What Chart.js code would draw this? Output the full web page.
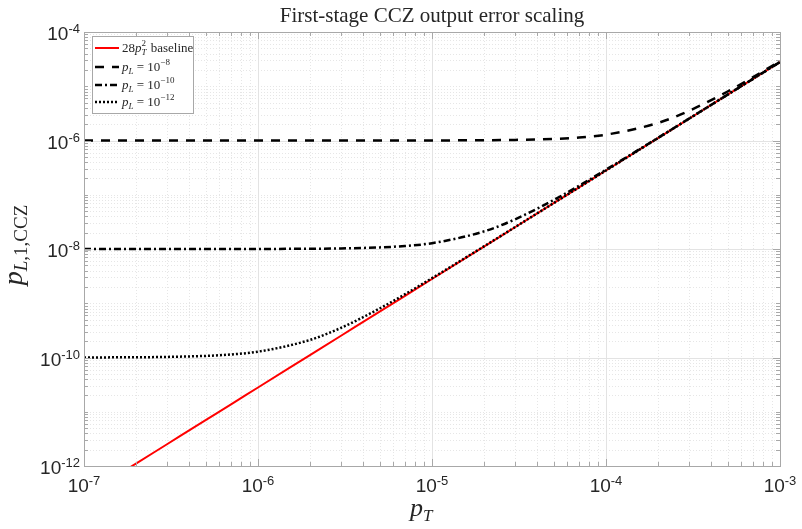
<!DOCTYPE html>
<html>
<head>
<meta charset="utf-8">
<script src="https://cdn.jsdelivr.net/npm/chart.js@4"></script>
<style>
  html, body { margin: 0; padding: 0; background: #fff; }
  #wrap { width: 802px; height: 529px; }
</style>
</head>
<body>
<div id="wrap"><canvas id="cczChart" width="802" height="529"></canvas></div>
<script>
// p_T sample points (x axis)
const pT = [1e-7, 2e-7, 3e-7, 5e-7, 7e-7, 1e-6, 2e-6, 3e-6, 5e-6, 7e-6,
            1e-5, 2e-5, 3e-5, 5e-5, 7e-5, 1e-4, 2e-4, 3e-4, 5e-4, 7e-4, 1e-3];

// red baseline 28 p_T^2
const baseline = [2.8e-13, 1.12e-12, 2.52e-12, 7.0e-12, 1.37e-11, 2.8e-11, 1.12e-10, 2.52e-10, 7.0e-10, 1.37e-9,
                  2.8e-9, 1.12e-8, 2.52e-8, 7.0e-8, 1.37e-7, 2.8e-7, 1.12e-6, 2.52e-6, 7.0e-6, 1.37e-5, 2.8e-5];
// p_L = 1e-8
const pL8 = [1.0e-6, 1.0e-6, 1.0e-6, 1.0e-6, 1.0e-6, 1.0e-6, 1.0e-6, 1.0e-6, 1.001e-6, 1.001e-6,
             1.003e-6, 1.011e-6, 1.025e-6, 1.07e-6, 1.137e-6, 1.28e-6, 2.12e-6, 3.52e-6, 8.0e-6, 1.47e-5, 2.9e-5];
// p_L = 1e-10
const pL10 = [1.0e-8, 1.0e-8, 1.0e-8, 1.0e-8, 1.0e-8, 1.003e-8, 1.011e-8, 1.025e-8, 1.07e-8, 1.137e-8,
              1.28e-8, 2.12e-8, 3.52e-8, 8.0e-8, 1.47e-7, 2.9e-7, 1.13e-6, 2.53e-6, 7.0e-6, 1.37e-5, 2.8e-5];
// p_L = 1e-12
const pL12 = [1.003e-10, 1.01e-10, 1.025e-10, 1.07e-10, 1.137e-10, 1.28e-10, 2.12e-10, 3.52e-10, 8.0e-10, 1.47e-9,
              2.9e-9, 1.13e-8, 2.53e-8, 7.0e-8, 1.37e-7, 2.8e-7, 1.12e-6, 2.52e-6, 7.0e-6, 1.37e-5, 2.8e-5];

// tick decades (labels are 10^e)
const xTickExps = [-7, -6, -5, -4, -3];
const yTickExps = [-12, -10, -8, -6, -4];
const xDecades = [-7, -6, -5, -4];
const yDecades = [-12, -11, -10, -9, -8, -7, -6, -5];

const legendItems = [
  { base: '28', sym: 'p', sub: 'T', sup: '2', tail: ' baseline' },
  { sym: 'p', sub: 'L', eq: ' = 10', sup: '\u22128' },
  { sym: 'p', sub: 'L', eq: ' = 10', sup: '\u221210' },
  { sym: 'p', sub: 'L', eq: ' = 10', sup: '\u221212' }
];

const SERIF = '"Liberation Serif", "DejaVu Serif", serif';
const SANS = '"Liberation Sans", Arial, sans-serif';

function toPts(ys) {
  return pT.map((x, i) => ({ x: x, y: ys[i] }));
}

// minor/major values of one log axis
function logValues(decades) {
  const major = [], minor = [];
  decades.forEach(e => {
    for (let m = 1; m <= 9; m++) {
      const v = m * Math.pow(10, e);
      if (m === 1) major.push(v); else minor.push(v);
    }
  });
  major.push(Math.pow(10, decades[decades.length - 1] + 1));
  return { major, minor };
}

// draw 10^exp with superscript
function drawPow(ctx, exp, x, y, align) {
  ctx.font = '19px ' + SANS;
  const wb = ctx.measureText('10').width;
  ctx.font = '13px ' + SANS;
  const ws = ctx.measureText('-' + Math.abs(exp)).width;
  const total = wb + ws;
  let left = x;
  if (align === 'right') left = x - total;
  if (align === 'center') left = x - total / 2;
  ctx.fillStyle = '#262626';
  ctx.textAlign = 'left';
  ctx.textBaseline = 'alphabetic';
  ctx.font = '19px ' + SANS;
  ctx.fillText('10', left, y);
  ctx.font = '13px ' + SANS;
  ctx.fillText('-' + Math.abs(exp), left + wb, y - 7);
}

const gridPlugin = {
  id: 'logGrid',
  beforeDatasetsDraw(chart) {
    const { ctx, chartArea: a, scales } = chart;
    const xs = scales.x, ys = scales.y;
    const xv = logValues(xDecades), yv = logValues(yDecades);
    ctx.save();
    ctx.lineWidth = 1;
    // minor grid, dotted
    ctx.strokeStyle = '#e6e6e6';
    ctx.setLineDash([1, 2]);
    xv.minor.forEach(v => {
      const px = Math.round(xs.getPixelForValue(v)) + 0.5;
      ctx.beginPath(); ctx.moveTo(px, a.top); ctx.lineTo(px, a.bottom); ctx.stroke();
    });
    yv.minor.concat(yv.major.filter(v => !yTickExps.includes(Math.round(Math.log10(v))))).forEach(v => {
      const py = Math.round(ys.getPixelForValue(v)) + 0.5;
      ctx.beginPath(); ctx.moveTo(a.left, py); ctx.lineTo(a.right, py); ctx.stroke();
    });
    // major grid, solid
    ctx.setLineDash([]);
    ctx.strokeStyle = '#e3e3e3';
    xTickExps.forEach(e => {
      const px = Math.round(xs.getPixelForValue(Math.pow(10, e))) + 0.5;
      ctx.beginPath(); ctx.moveTo(px, a.top); ctx.lineTo(px, a.bottom); ctx.stroke();
    });
    yTickExps.forEach(e => {
      const py = Math.round(ys.getPixelForValue(Math.pow(10, e))) + 0.5;
      ctx.beginPath(); ctx.moveTo(a.left, py); ctx.lineTo(a.right, py); ctx.stroke();
    });
    ctx.restore();
  },
  afterDraw(chart) {
    const { ctx, chartArea: a, scales } = chart;
    const xs = scales.x, ys = scales.y;
    const xv = logValues(xDecades), yv = logValues(yDecades);
    ctx.save();
    // frame
    ctx.strokeStyle = '#a8a8a8';
    ctx.lineWidth = 1;
    ctx.strokeRect(Math.round(a.left) + 0.5, Math.round(a.top) + 0.5,
                   Math.round(a.right - a.left), Math.round(a.bottom - a.top));
    // tick marks, inward, on all four sides
    const tick = (v, len, isX) => {
      if (isX) {
        const px = Math.round(xs.getPixelForValue(v)) + 0.5;
        ctx.beginPath();
        ctx.moveTo(px, a.bottom); ctx.lineTo(px, a.bottom - len);
        ctx.moveTo(px, a.top); ctx.lineTo(px, a.top + len);
        ctx.stroke();
      } else {
        const py = Math.round(ys.getPixelForValue(v)) + 0.5;
        ctx.beginPath();
        ctx.moveTo(a.left, py); ctx.lineTo(a.left + len, py);
        ctx.moveTo(a.right, py); ctx.lineTo(a.right - len, py);
        ctx.stroke();
      }
    };
    xv.minor.forEach(v => tick(v, 4, true));
    xTickExps.forEach(e => tick(Math.pow(10, e), 7, true));
    yv.minor.forEach(v => tick(v, 4, false));
    yv.major.forEach(v => tick(v, yTickExps.includes(Math.round(Math.log10(v))) ? 7 : 4, false));

    // tick labels
    xTickExps.forEach(e => drawPow(ctx, e, xs.getPixelForValue(Math.pow(10, e)), 492, 'center'));
    yTickExps.forEach(e => drawPow(ctx, e, a.left - 4, ys.getPixelForValue(Math.pow(10, e)) + 8, 'right'));

    // title
    ctx.fillStyle = '#262626';
    ctx.font = '21px ' + SERIF;
    ctx.textAlign = 'center';
    ctx.textBaseline = 'alphabetic';
    ctx.fillText('First-stage CCZ output error scaling', (a.left + a.right) / 2, 22);

    // x axis title p_T
    const cx = (a.left + a.right) / 2;
    ctx.font = 'italic 26px ' + SERIF;
    ctx.textAlign = 'left';
    const wp = ctx.measureText('p').width;
    ctx.fillText('p', cx - 22, 516);
    ctx.font = 'italic 17px ' + SERIF;
    ctx.fillText('T', cx - 22 + wp, 521);

    // y axis title p_{L,1,CCZ}
    ctx.save();
    ctx.translate(22, 245);
    ctx.rotate(-Math.PI / 2);
    ctx.font = 'italic 28px ' + SERIF;
    const wp2 = ctx.measureText('p').width;
    ctx.font = 'italic 19px ' + SERIF;
    const wL = ctx.measureText('L').width;
    ctx.font = '19px ' + SERIF;
    const wRest = ctx.measureText(',1,CCZ').width;
    let sx = -(wp2 + wL + wRest) / 2;
    ctx.font = 'italic 28px ' + SERIF;
    ctx.fillText('p', sx, 0);
    sx += wp2;
    ctx.font = 'italic 19px ' + SERIF;
    ctx.fillText('L', sx, 5);
    sx += wL;
    ctx.font = '19px ' + SERIF;
    ctx.fillText(',1,CCZ', sx, 5);
    ctx.restore();

    // legend
    const lx = 92, ly = 36, lw = 101, lh = 77;
    ctx.fillStyle = '#fff';
    ctx.fillRect(lx, ly, lw, lh);
    ctx.strokeStyle = '#a8a8a8';
    ctx.lineWidth = 1;
    ctx.strokeRect(lx + 0.5, ly + 0.5, lw, lh);
    const rowsY = [48, 67, 85, 102];
    chart.data.datasets.forEach((ds, i) => {
      const y = rowsY[i];
      ctx.strokeStyle = ds.borderColor;
      ctx.lineWidth = ds.borderWidth;
      ctx.setLineDash(ds.borderDash || []);
      ctx.beginPath(); ctx.moveTo(95, y); ctx.lineTo(119, y); ctx.stroke();
      ctx.setLineDash([]);
      const it = legendItems[i];
      let tx = 122;
      ctx.fillStyle = '#262626';
      ctx.textAlign = 'left';
      ctx.textBaseline = 'alphabetic';
      const by = y + 4;
      if (it.base) {
        ctx.font = '13px ' + SERIF;
        ctx.fillText(it.base, tx, by); tx += ctx.measureText(it.base).width;
      }
      ctx.font = 'italic 13px ' + SERIF;
      ctx.fillText(it.sym, tx, by); tx += ctx.measureText(it.sym).width;
      ctx.font = 'italic 9px ' + SERIF;
      ctx.fillText(it.sub, tx, by + 3);
      const wsub = ctx.measureText(it.sub).width;
      if (it.tail) {
        ctx.font = '9px ' + SERIF;
        ctx.fillText(it.sup, tx, by - 6);
        tx += Math.max(wsub, ctx.measureText(it.sup).width) + 1;
        ctx.font = '13px ' + SERIF;
        ctx.fillText(it.tail, tx, by);
      } else {
        tx += wsub;
        ctx.font = '13px ' + SERIF;
        ctx.fillText(it.eq, tx, by); tx += ctx.measureText(it.eq).width;
        ctx.font = '9px ' + SERIF;
        ctx.fillText(it.sup, tx, by - 6);
      }
    });
    ctx.restore();
  }
};

const ctx = document.getElementById('cczChart').getContext('2d');
new Chart(ctx, {
  type: 'line',
  data: {
    datasets: [
      { label: 'baseline', data: toPts(baseline), borderColor: '#ff0000', borderWidth: 2, order: 1 },
      { label: 'pL8', data: toPts(pL8), borderColor: '#000000', borderWidth: 2.5, borderDash: [9, 8], order: 0 },
      { label: 'pL10', data: toPts(pL10), borderColor: '#000000', borderWidth: 2.5, borderDash: [7, 3, 2, 3], order: 0 },
      { label: 'pL12', data: toPts(pL12), borderColor: '#000000', borderWidth: 2.5, borderDash: [2, 2], order: 0 }
    ]
  },
  options: {
    responsive: false,
    animation: false,
    layout: { padding: { left: 0, top: 32, right: 22, bottom: 0 } },
    elements: {
      point: { radius: 0, hoverRadius: 0 },
      line: { cubicInterpolationMode: 'monotone', fill: false }
    },
    plugins: { legend: { display: false }, title: { display: false }, tooltip: { enabled: false } },
    scales: {
      x: {
        type: 'logarithmic', min: 1e-7, max: 1e-3,
        grid: { display: false }, border: { display: false },
        ticks: { display: false },
        afterFit(scale) { scale.height = 63; }
      },
      y: {
        type: 'logarithmic', min: 1e-12, max: 1e-4,
        grid: { display: false }, border: { display: false },
        ticks: { display: false },
        afterFit(scale) { scale.width = 84; }
      }
    }
  },
  plugins: [gridPlugin]
});
</script>
</body>
</html>
